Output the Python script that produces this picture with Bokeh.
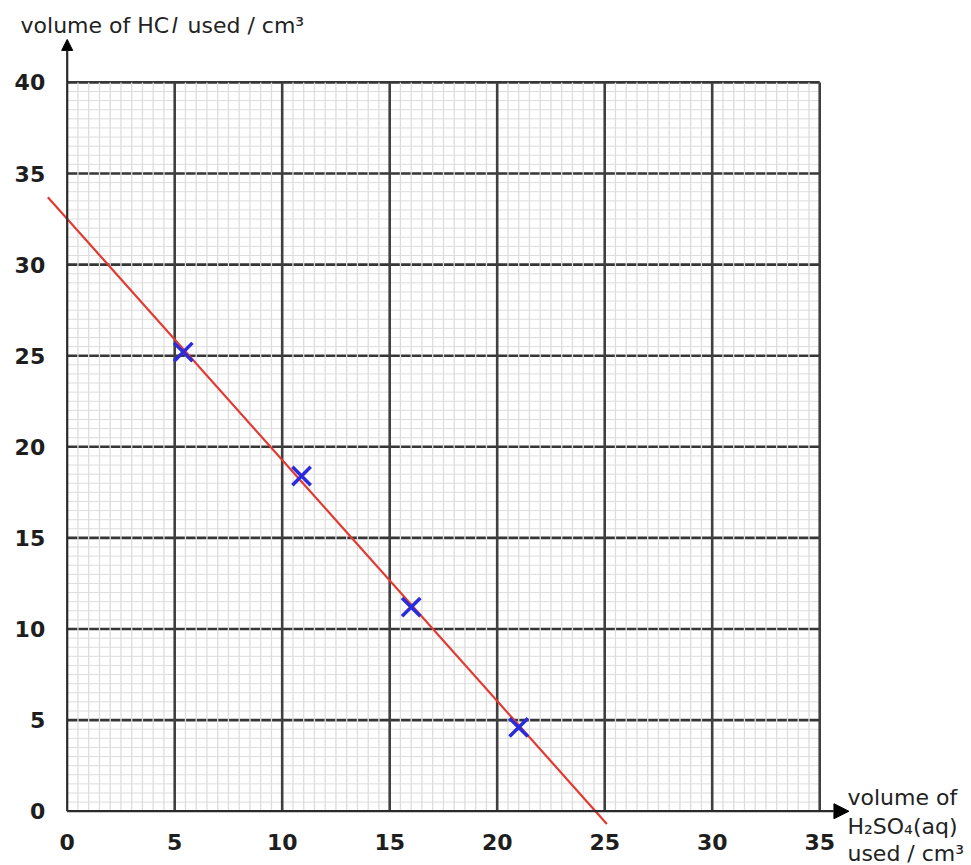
import numpy as np
from bokeh.plotting import figure
from bokeh.models import Label, Arrow, NormalHead, LinearAxis, FixedTicker, Range1d
from bokeh.embed import file_html
from bokeh.resources import INLINE

# ---- data ----
x_vals = [5.4, 10.9, 16.0, 21.0]          # volume of H2SO4(aq) used / cm3
y_vals = [25.2, 18.4, 11.2, 4.6]          # volume of HCl used / cm3
line_x = [-0.9, 25.1]                     # best-fit line end points
line_y = [33.7, -0.7]
x_ticks = [0, 5, 10, 15, 20, 25, 30, 35]
y_ticks = [0, 5, 10, 15, 20, 25, 30, 35, 40]
x_max = 35
y_max = 40
minor_step = 0.5

FONT = "DejaVu Sans"

p = figure(width=971, height=865,
           x_range=Range1d(-3.102, 42.06), y_range=Range1d(-2.98, 44.495),
           output_backend="svg", toolbar_location=None,
           x_axis_location=None, y_axis_location=None, min_border=0)
p.outline_line_color = None
p.background_fill_color = "white"
p.border_fill_color = "white"
p.grid.visible = False

# ---- graph-paper grid ----
minor_x = [v for v in np.arange(0, x_max + 1e-9, minor_step) if v % 5 != 0]
minor_y = [v for v in np.arange(0, y_max + 1e-9, minor_step) if v % 5 != 0]
major_x = [v for v in x_ticks if v != 0]
major_y = [v for v in y_ticks if v != 0]

minor_col = "#dddddd"
major_col = "#363636"

# minor horizontal
p.segment(x0=[0] * len(minor_y), y0=minor_y, x1=[x_max] * len(minor_y), y1=minor_y,
          line_color=minor_col, line_width=1)
# major horizontal
p.segment(x0=[0] * len(major_y), y0=major_y, x1=[x_max] * len(major_y), y1=major_y,
          line_color=major_col, line_width=2.6)
# minor vertical (drawn over the horizontal majors -> broken look)
p.segment(x0=minor_x, y0=[0] * len(minor_x), x1=minor_x, y1=[y_max] * len(minor_x),
          line_color=minor_col, line_width=1.3)
# major vertical
p.segment(x0=major_x, y0=[0] * len(major_x), x1=major_x, y1=[y_max] * len(major_x),
          line_color="#404040", line_width=2.6)

# ---- axes with arrows ----
p.add_layout(Arrow(end=NormalHead(size=11, fill_color="black", line_color="black"),
                   x_start=0, y_start=0, x_end=0, y_end=42.36,
                   line_color="#2a2a2a", line_width=2.2))
p.add_layout(Arrow(end=NormalHead(size=15, fill_color="black", line_color="black"),
                   x_start=0, y_start=0, x_end=36.36, y_end=0,
                   line_color="#2a2a2a", line_width=2.2))

common = dict(axis_line_color=None, major_tick_line_color=None,
              minor_tick_line_color=None, major_tick_in=0, major_tick_out=0,
              major_label_text_font=FONT, major_label_text_font_style="bold",
              major_label_text_font_size="22px", major_label_text_color="#1e1e1e")

xaxis = LinearAxis(fixed_location=0, ticker=FixedTicker(ticks=x_ticks, minor_ticks=[]),
                   bounds=(0, x_max), major_label_standoff=23, **common)
yaxis = LinearAxis(fixed_location=0, ticker=FixedTicker(ticks=y_ticks, minor_ticks=[]),
                   bounds=(0, y_max), major_label_standoff=22, **common)
p.add_layout(xaxis, "below")
p.add_layout(yaxis, "left")

# ---- best-fit line and data points ----
p.line(line_x, line_y, line_color="#e23a32", line_width=2.2)
p.scatter(x_vals, y_vals, marker="x", size=26, line_color="#2b2bdc", line_width=3.5)

# ---- axis titles ----
lab = dict(text_font=FONT, text_font_size="22px", text_color="#222222",
           text_baseline="alphabetic")
ty = 43.11
p.add_layout(Label(x=-2.17, y=ty, text="volume of HC", **lab))
p.add_layout(Label(x=-2.17, y=ty, x_offset=151, text="l", text_font_style="italic", **lab))
p.add_layout(Label(x=-2.17, y=ty, x_offset=167, text="used / cm³", **lab))

p.add_layout(Label(x=36.29, y=0.75, text="volume of", **lab))
p.add_layout(Label(x=36.29, y=-0.84, text="H₂SO₄(aq)", **lab))
p.add_layout(Label(x=36.29, y=-2.32, text="used / cm³", **lab))

open("out.html", "w").write(file_html(p, INLINE))
